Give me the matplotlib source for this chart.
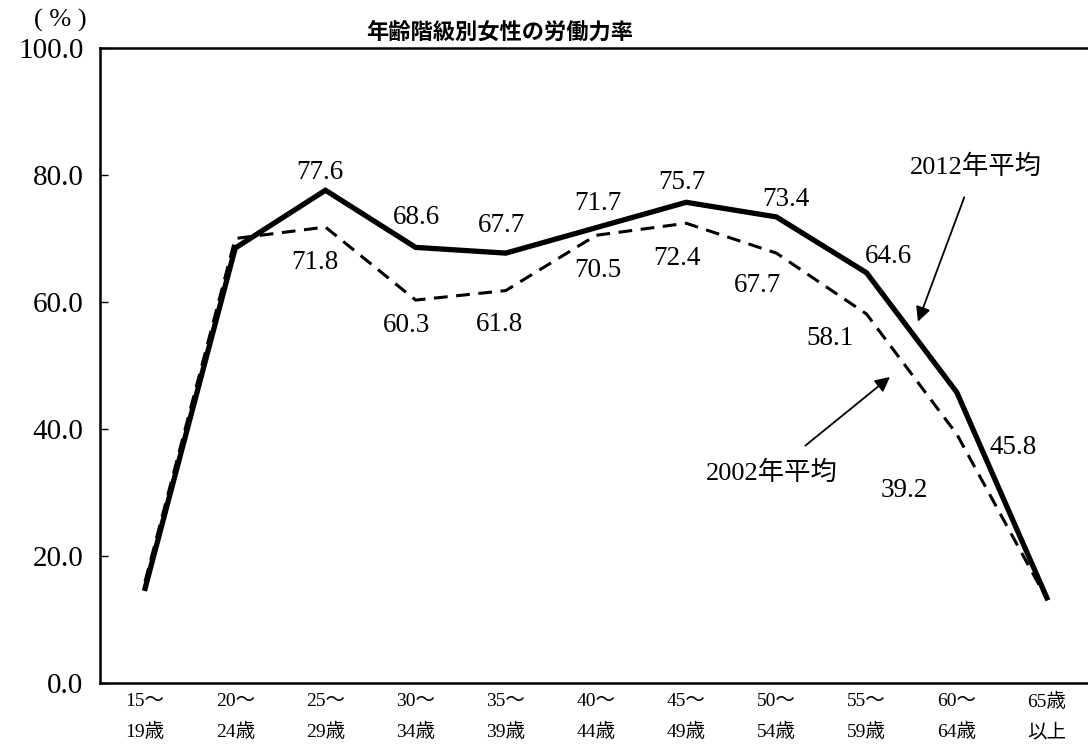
import matplotlib
matplotlib.use("Agg")
import matplotlib.pyplot as plt

plt.rcParams['font.family'] = ['Liberation Serif', 'Noto Sans CJK JP']

# age groups
ages = ['15～\n19歳', '20～\n24歳', '25～\n29歳', '30～\n34歳', '35～\n39歳',
        '40～\n44歳', '45～\n49歳', '50～\n54歳', '55～\n59歳', '60～\n64歳', '65歳\n以上']

rate_2012 = [14.9, 68.5, 77.6, 68.6, 67.7, 71.7, 75.7, 73.4, 64.6, 45.8, 13.4]
rate_2002 = [16.0, 70.0, 71.8, 60.3, 61.8, 70.5, 72.4, 67.7, 58.1, 39.2, 13.2]

# which points get a number label, and the offset (px) of the label
lab_2012 = {2: (-6, 18), 3: (1, 30), 4: (-4, 28), 5: (2, 24), 6: (-4, 20),
            7: (10, 17), 8: (22, 16), 9: (56, -55)}
lab_2002 = {2: (-11, -35), 3: (-9, -25), 4: (-6, -34), 5: (2, -35), 6: (-9, -35),
            7: (-19, -32), 8: (-37, -24), 9: (-52, -56)}

fig = plt.figure(figsize=(10.88, 7.53), dpi=100)
ax = fig.add_axes([100 / 1088, 70 / 753, 992 / 1088, 635 / 753])

x = list(range(len(ages)))
ax.plot(x, rate_2012, color='black', lw=3.8, solid_joinstyle='miter')
ax.plot(x, rate_2002, color='black', lw=2.2, linestyle=(0, (4.5, 2.8)))

for i, (dx, dy) in lab_2012.items():
    ax.annotate(f'{rate_2012[i]:.1f}', (i, rate_2012[i]), xytext=(dx * 0.72, dy * 0.72),
                textcoords='offset points', ha='center', va='center', fontsize=19.5)
for i, (dx, dy) in lab_2002.items():
    ax.annotate(f'{rate_2002[i]:.1f}', (i, rate_2002[i]), xytext=(dx * 0.72, dy * 0.72),
                textcoords='offset points', ha='center', va='center', fontsize=19.5)

ax.annotate('2012年平均', xy=(8.57, 56.9), xytext=(9.21, 81.3), ha='center', va='center',
            fontsize=19,
            arrowprops=dict(arrowstyle='-|>', color='black', lw=1.3, mutation_scale=22,
                            shrinkA=12, shrinkB=0))
ax.annotate('2002年平均', xy=(8.26, 48.2), xytext=(6.95, 33.1), ha='center', va='center',
            fontsize=19,
            arrowprops=dict(arrowstyle='-|>', color='black', lw=1.3, mutation_scale=22,
                            shrinkA=14, shrinkB=0))

ax.set_xlim(-0.5, 10.5)
ax.set_ylim(0, 100)
ax.set_yticks(range(0, 101, 20))
ax.set_yticklabels([f'{v:.1f}' for v in range(0, 101, 20)], fontsize=21)
ax.set_xticks(x)
ax.set_xticklabels(ages, fontsize=14, linespacing=1.95)
ax.tick_params(axis='y', direction='in', length=6, width=1, pad=12)
ax.tick_params(axis='x', length=0, pad=7)

for s in ['left', 'top', 'bottom']:
    ax.spines[s].set_linewidth(1.8)
ax.spines['right'].set_visible(False)

fig.text(500 / 1088, 1 - 33 / 753, '年齢階級別女性の労働力率', ha='center', va='center',
         fontsize=16, fontweight='bold')
fig.text(60 / 1088, 1 - 20 / 753, '( % )', ha='center', va='center', fontsize=19)

fig.savefig('out.png', dpi=100)
